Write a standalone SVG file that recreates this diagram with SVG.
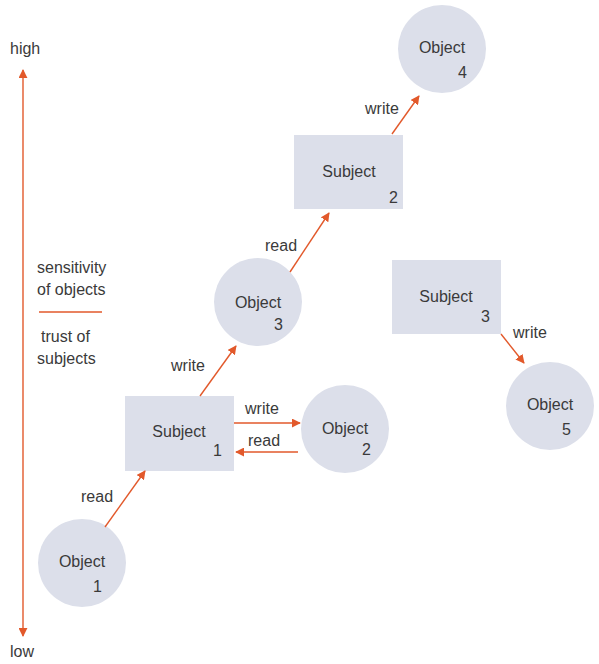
<svg xmlns="http://www.w3.org/2000/svg" width="599" height="664" viewBox="0 0 599 664">
  <style>
    .node { fill: #DCDFEA; }
    .lbl { font-family: "Liberation Sans", Arial, sans-serif; font-size: 16px; fill: #3a3a3a; }
    .mid { text-anchor: middle; }
    .end { text-anchor: end; }
    .edge { stroke: #E2592B; stroke-width: 1.4; fill: none; }
  </style>
  <defs>
    <marker id="arrow" viewBox="0 0 10 10" refX="9" refY="5" markerWidth="9" markerHeight="9" markerUnits="userSpaceOnUse" orient="auto-start-reverse">
      <path d="M0,0 L10,5 L0,10 z" fill="#E2592B"/>
    </marker>
  </defs>

  <!-- vertical scale -->
  <g id="scale">
    <line class="edge" x1="23" y1="70" x2="23" y2="636" marker-start="url(#arrow)" marker-end="url(#arrow)"/>
    <text class="lbl" x="10" y="54">high</text>
    <text class="lbl" x="10" y="657">low</text>
    <text class="lbl" x="37" y="273">sensitivity</text>
    <text class="lbl" x="37" y="295">of objects</text>
    <line class="edge" x1="39" y1="312" x2="102" y2="312"/>
    <text class="lbl" x="41" y="342">trust of</text>
    <text class="lbl" x="37" y="364">subjects</text>
  </g>

  <!-- nodes -->
  <g id="object1">
    <circle class="node" cx="82" cy="563" r="44"/>
    <text class="lbl mid" x="82" y="567">Object</text>
    <text class="lbl end" x="102" y="592">1</text>
  </g>
  <g id="subject1">
    <rect class="node" x="125" y="396" width="109" height="75"/>
    <text class="lbl mid" x="179" y="437">Subject</text>
    <text class="lbl end" x="222" y="456">1</text>
  </g>
  <g id="object2">
    <circle class="node" cx="345" cy="429" r="44"/>
    <text class="lbl mid" x="345" y="434">Object</text>
    <text class="lbl end" x="371" y="455">2</text>
  </g>
  <g id="object3">
    <circle class="node" cx="258" cy="302" r="44"/>
    <text class="lbl mid" x="258" y="308">Object</text>
    <text class="lbl end" x="283" y="330">3</text>
  </g>
  <g id="subject2">
    <rect class="node" x="294" y="135" width="109" height="74"/>
    <text class="lbl mid" x="349" y="177">Subject</text>
    <text class="lbl end" x="398" y="203">2</text>
  </g>
  <g id="object4">
    <circle class="node" cx="442" cy="49" r="44"/>
    <text class="lbl mid" x="442" y="53">Object</text>
    <text class="lbl end" x="467" y="78">4</text>
  </g>
  <g id="subject3">
    <rect class="node" x="392" y="260" width="109" height="74"/>
    <text class="lbl mid" x="446" y="302">Subject</text>
    <text class="lbl end" x="490" y="322">3</text>
  </g>
  <g id="object5">
    <circle class="node" cx="550" cy="406" r="44"/>
    <text class="lbl mid" x="550" y="410">Object</text>
    <text class="lbl end" x="571" y="435">5</text>
  </g>

  <!-- connectors -->
  <g id="connectors">
    <line class="edge" x1="105" y1="527" x2="145" y2="471" marker-end="url(#arrow)"/>
    <text class="lbl" x="81" y="502">read</text>
    <line class="edge" x1="200" y1="396" x2="236" y2="346" marker-end="url(#arrow)"/>
    <text class="lbl" x="171" y="371">write</text>
    <line class="edge" x1="234" y1="423" x2="300" y2="423" marker-end="url(#arrow)"/>
    <text class="lbl" x="245" y="414">write</text>
    <line class="edge" x1="298" y1="452" x2="236" y2="452" marker-end="url(#arrow)"/>
    <text class="lbl" x="248" y="446">read</text>
    <line class="edge" x1="290" y1="272" x2="329" y2="213" marker-end="url(#arrow)"/>
    <text class="lbl" x="265" y="251">read</text>
    <line class="edge" x1="392" y1="134" x2="419" y2="96" marker-end="url(#arrow)"/>
    <text class="lbl" x="365" y="114">write</text>
    <line class="edge" x1="501" y1="334" x2="524" y2="363" marker-end="url(#arrow)"/>
    <text class="lbl" x="513" y="338">write</text>
  </g>
</svg>
